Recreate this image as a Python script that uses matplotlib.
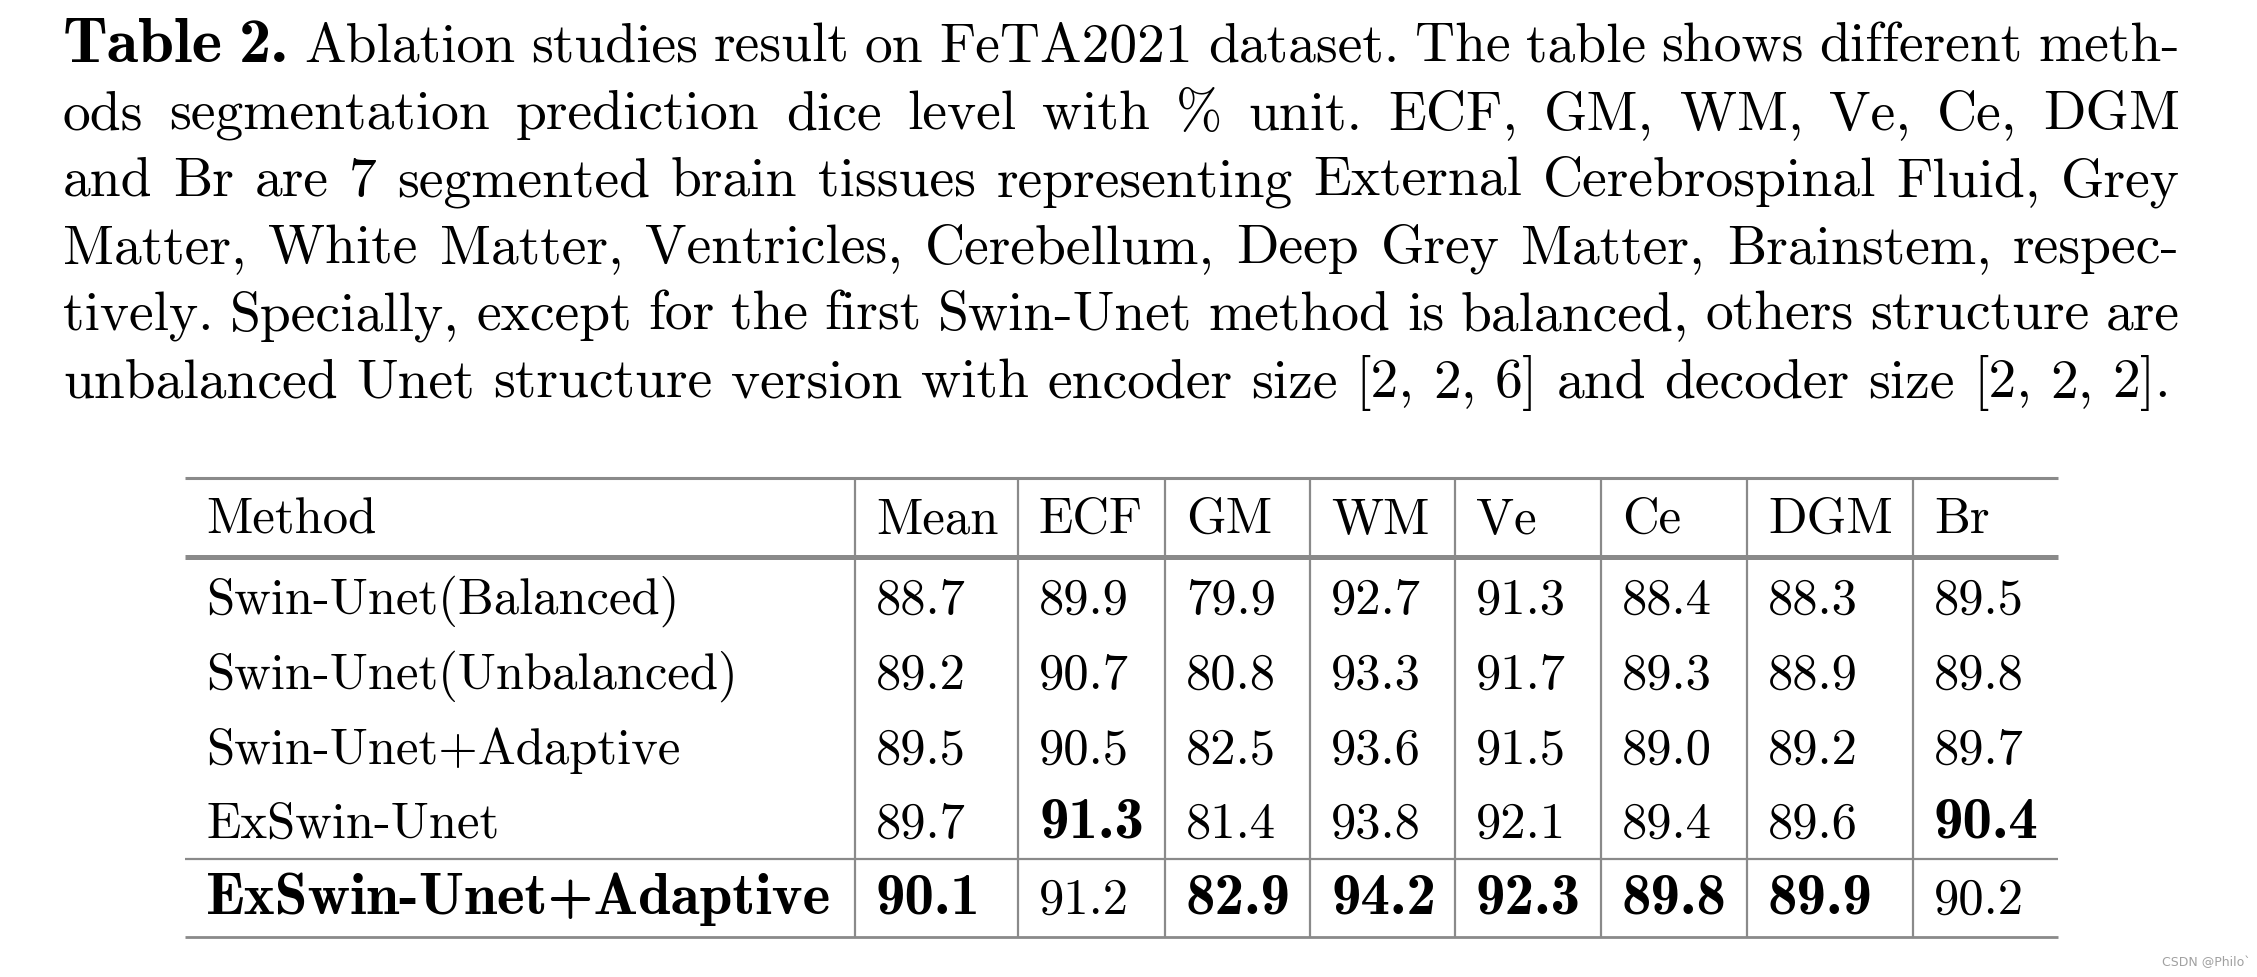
import matplotlib
matplotlib.use("Agg")
import matplotlib.pyplot as plt

plt.rcParams["axes.unicode_minus"] = False

# ---- data ----
columns = ["Method", "Mean", "ECF", "GM", "WM", "Ve", "Ce", "DGM", "Br"]
methods = [
    "Swin-Unet(Balanced)",
    "Swin-Unet(Unbalanced)",
    "Swin-Unet+Adaptive",
    "ExSwin-Unet",
    "ExSwin-Unet+Adaptive",
]
mean = [88.7, 89.2, 89.5, 89.7, 90.1]
ecf = [89.9, 90.7, 90.5, 91.3, 91.2]
gm = [79.9, 80.8, 82.5, 81.4, 82.9]
wm = [92.7, 93.3, 93.6, 93.8, 94.2]
ve = [91.3, 91.7, 91.5, 92.1, 92.3]
ce = [88.4, 89.3, 89.0, 89.4, 89.8]
dgm = [88.3, 88.9, 89.2, 89.6, 89.9]
br = [89.5, 89.8, 89.7, 90.4, 90.2]
bold_method = "ExSwin-Unet+Adaptive"

caption_lines = [
    "Table 2. Ablation studies result on FeTA2021 dataset. The table shows different meth-",
    "ods segmentation prediction dice level with % unit. ECF, GM, WM, Ve, Ce, DGM",
    "and Br are 7 segmented brain tissues representing External Cerebrospinal Fluid, Grey",
    "Matter, White Matter, Ventricles, Cerebellum, Deep Grey Matter, Brainstem, respec-",
    "tively. Specially, except for the first Swin-Unet method is balanced, others structure are",
    "unbalanced Unet structure version with encoder size [2, 2, 6] and decoder size [2, 2, 2].",
]

# ---- layout (pixels) ----
W, H = 2257, 978
REG = ["cmr10", "DejaVu Serif"]
BOLD = ["cmb10", "DejaVu Serif"]
cap_left, cap_right = 63, 2180
cap_base = [62, 129, 196, 263, 330, 397]
cap_size = 40
cap_bold_size = 46.5

col_edges = [185, 855, 1018, 1165, 1310, 1455, 1601, 1747, 1913, 2058]
pad = 21
head_base = 533
row_base = [614, 689, 764, 838, 914]
rule_top, rule_head, rule_mid, rule_bot = 479, 558, 860, 938
line_col = "#8a8a8a"
tab_size = 36.5
tab_bold_size = 42.5

fig = plt.figure(figsize=(W / 100, H / 100), dpi=100)
ax = fig.add_axes([0, 0, 1, 1])
ax.set_xlim(0, W)
ax.set_ylim(H, 0)
ax.axis("off")
renderer = fig.canvas.get_renderer()


def width_of(s, fam, size):
    t = ax.text(0, 0, s, family=fam, fontsize=size)
    w = t.get_window_extent(renderer).width
    t.remove()
    return w


# caption, justified except the last line
for i, line in enumerate(caption_lines):
    words = line.split(" ")
    styles = [(BOLD, cap_bold_size) if (i == 0 and j < 2) else (REG, cap_size)
              for j in range(len(words))]
    widths = [width_of(w, f, s) for w, (f, s) in zip(words, styles)]
    if i < len(caption_lines) - 1:
        gap = (cap_right - cap_left - sum(widths)) / (len(words) - 1)
    else:
        gap = width_of("a b", REG, cap_size) - width_of("ab", REG, cap_size)
    x = cap_left
    for w, (f, s), wd in zip(words, styles, widths):
        ax.text(x, cap_base[i], w, family=f, fontsize=s,
                ha="left", va="baseline", color="black")
        x += wd + gap

# rules
x0, x1 = col_edges[0], col_edges[-1]
ax.plot([x0, x1], [rule_top, rule_top], color=line_col, lw=2.2, solid_capstyle="butt")
ax.plot([x0, x1], [rule_head, rule_head], color=line_col, lw=3.6, solid_capstyle="butt")
ax.plot([x0, x1], [rule_mid, rule_mid], color=line_col, lw=1.6, solid_capstyle="butt")
ax.plot([x0, x1], [rule_bot, rule_bot], color=line_col, lw=2.0, solid_capstyle="butt")
for xe in col_edges[1:-1]:
    ax.plot([xe, xe], [rule_top, rule_bot], color=line_col, lw=1.6, solid_capstyle="butt")

# header
for c, name in enumerate(columns):
    ax.text(col_edges[c] + pad, head_base, name, family=REG, fontsize=tab_size,
            ha="left", va="baseline")

# body
value_cols = [mean, ecf, gm, wm, ve, ce, dgm, br]
for r, m in enumerate(methods):
    if m == bold_method:
        fam, size = BOLD, tab_bold_size
    else:
        fam, size = REG, tab_size
    ax.text(col_edges[0] + pad, row_base[r], m, family=fam, fontsize=size,
            ha="left", va="baseline")
    for c, vals in enumerate(value_cols):
        if vals[r] == max(vals):
            fam, size = BOLD, tab_bold_size
        else:
            fam, size = REG, tab_size
        ax.text(col_edges[c + 1] + pad, row_base[r], f"{vals[r]:.1f}", family=fam,
                fontsize=size, ha="left", va="baseline")

# watermark
ax.text(2206, 963, "CSDN @Philo`", family="DejaVu Sans", fontsize=9,
        color="#a0a0a0", ha="center", va="center")

fig.savefig("out.png", dpi=100, facecolor="white")
